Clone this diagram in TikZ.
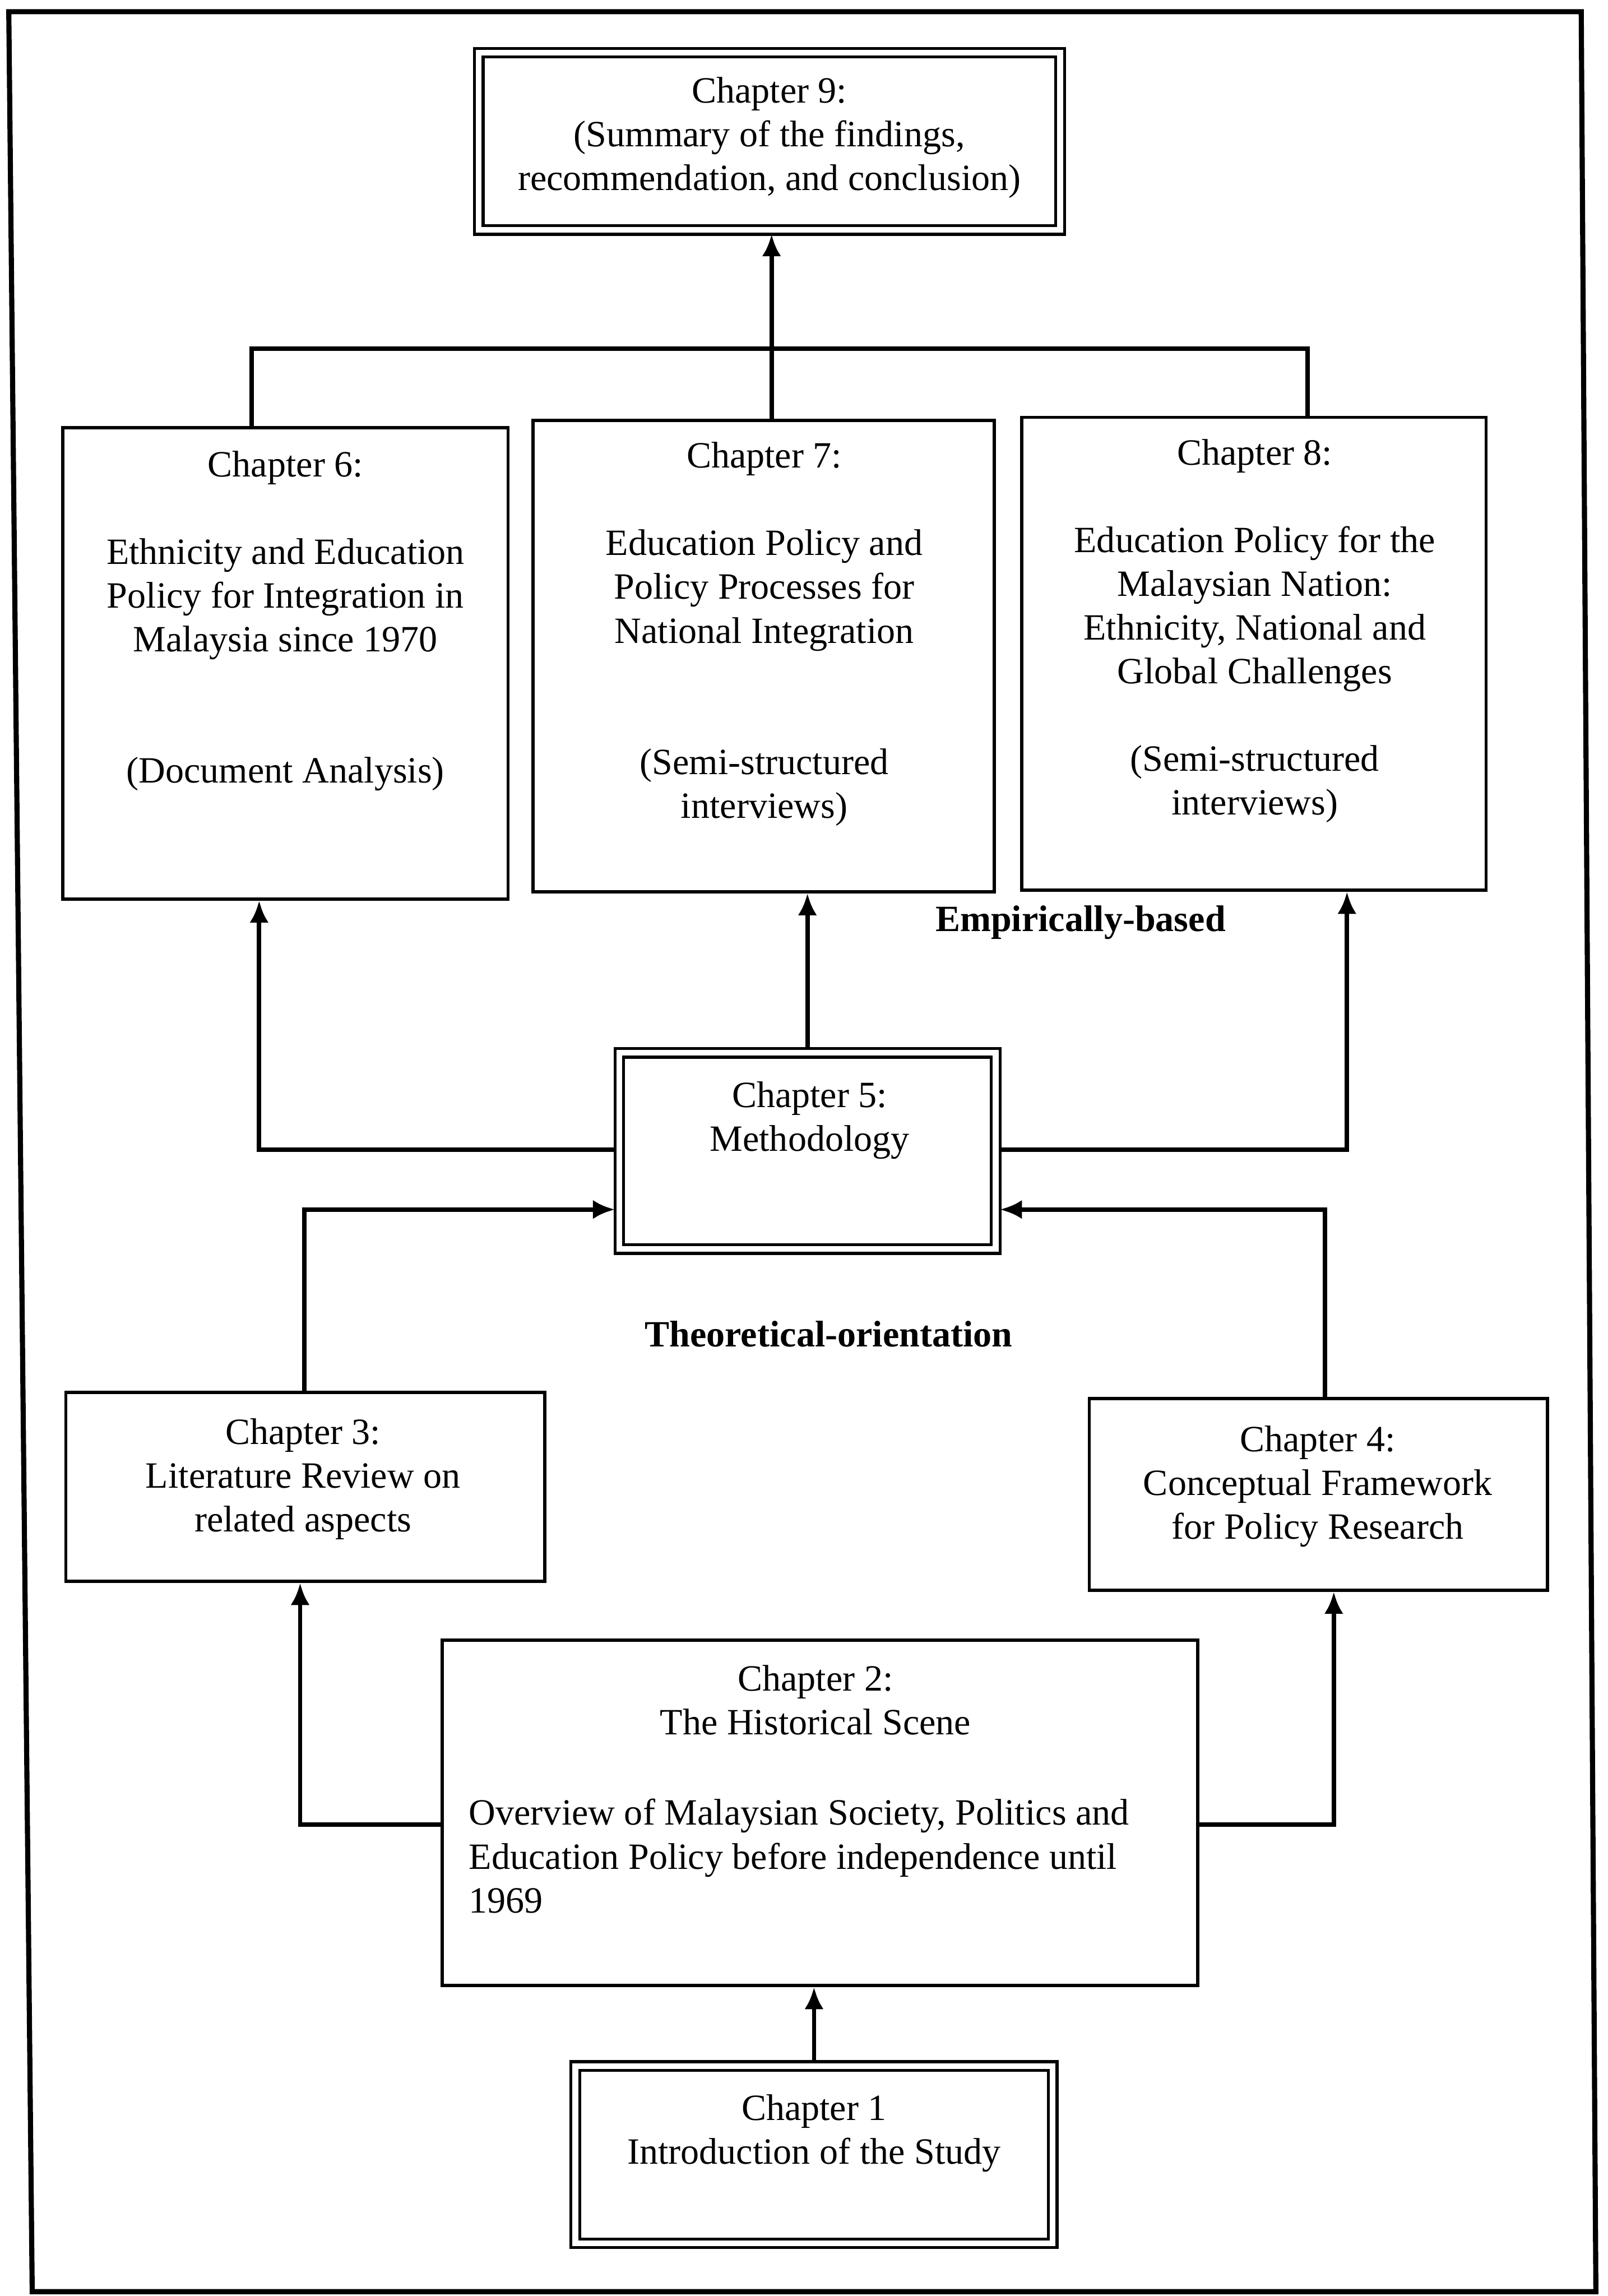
\documentclass[tikz,border=0pt]{standalone}
\usepackage{fontspec}
\setmainfont{Liberation Serif}
\usetikzlibrary{arrows.meta,fit}
\begin{document}
\begin{tikzpicture}[x=0.02cm,y=-0.02cm,
  txt/.style={align=center,inner sep=0pt,font=\fontsize{14.4}{17}\selectfont},
  lbl/.style={inner sep=0pt,font=\fontsize{14.4}{17}\selectfont\bfseries},
  box/.style={draw,line width=0.45mm,inner sep=0pt,outer sep=0.22mm},
  dbox/.style={draw,line width=0.4mm,double,double distance=0.8mm,inner sep=0pt,outer sep=0.6mm},
  conn/.style={line width=0.6mm},
  arr/.style={conn,-{Latex[length=3mm,width=2.6mm]}},
]
\useasboundingbox (0,0) rectangle (1098,1568);
\fill[white] (0,0) rectangle (1098,1568);

% page frame
\draw[line width=0.7mm,line join=miter] (6,8) -- (1080,8) -- (1090,1565) -- (22,1565) -- cycle;

% chapter boxes
\node[dbox,fit={(327,36) (724,157)}] (c9) {};
\node[box,fit={(43,292) (347,614)}] (c6) {};
\node[box,fit={(364,287) (679,609)}] (c7) {};
\node[box,fit={(698,285) (1015,608)}] (c8) {};
\node[dbox,fit={(423,719) (680,853)}] (c5) {};
\node[box,fit={(45,951) (372,1080)}] (c3) {};
\node[box,fit={(744,955) (1057,1086)}] (c4) {};
\node[box,fit={(302,1120) (818,1356)}] (c2) {};
\node[dbox,fit={(393,1411) (719,1532)}] (c1) {};

% box texts
\node[txt] (t9) at (525.5,94) {Chapter 9:\\(Summary of the findings,\\recommendation, and conclusion)};
\node[txt] (t6) at (195,424) {Chapter 6:\\[17pt]Ethnicity and Education\\Policy for Integration in\\Malaysia since 1970\\[34pt](Document Analysis)};
\node[txt] (t7) at (522,433) {Chapter 7:\\[17pt]Education Policy and\\Policy Processes for\\National Integration\\[34pt](Semi-structured\\interviews)};
\node[txt] (t8) at (857,431) {Chapter 8:\\[17pt]Education Policy for the\\Malaysian Nation:\\Ethnicity, National and\\Global Challenges\\[17pt](Semi-structured\\interviews)};
\node[txt] (t5) at (553,765) {Chapter 5:\\Methodology};
\node[txt] (t3) at (207,1010) {Chapter 3:\\Literature Review on\\related aspects};
\node[txt] (t4) at (900,1015) {Chapter 4:\\Conceptual Framework\\for Policy Research};
\node[txt] (t2a) at (557,1161) {Chapter 2:\\The Historical Scene};
\node[txt,align=left,anchor=west] (t2b) at (320,1267.5) {Overview of Malaysian Society, Politics and\\Education Policy before independence until\\1969};
\node[txt] (t1) at (556,1457) {Chapter 1\\Introduction of the Study};

% section labels
\node[lbl] (emp) at (738,630) {Empirically-based};
\node[lbl] (theo) at (566,911) {Theoretical-orientation};

% junction points
\coordinate (bl) at (172,238);
\coordinate (br) at (893,238);
\coordinate (b9) at (527,238);
\coordinate (j6) at (177,785);
\coordinate (j8) at (920,785);
\coordinate (k3) at (208,826);
\coordinate (k4) at (905,826);
\coordinate (j3) at (205,1246);
\coordinate (j4) at (911,1246);

% connectors
\draw[conn] (bl |- c6.north) -- (bl) -- (br) -- (br |- c8.north);
\draw[arr] (b9 |- c7.north) -- (b9 |- c9.south);
\draw[arr] (c5.west |- j6) -- (j6) -- (j6 |- c6.south);
\draw[arr] (c5.north) -- (c5.north |- c7.south);
\draw[arr] (c5.east |- j8) -- (j8) -- (j8 |- c8.south);
\draw[arr] (k3 |- c3.north) -- (k3) -- (k3 -| c5.west);
\draw[arr] (k4 |- c4.north) -- (k4) -- (k4 -| c5.east);
\draw[arr] (c2.west |- j3) -- (j3) -- (j3 |- c3.south);
\draw[arr] (c2.east |- j4) -- (j4) -- (j4 |- c4.south);
\draw[arr] (c1.north) -- (c1.north |- c2.south);
\end{tikzpicture}
\end{document}
